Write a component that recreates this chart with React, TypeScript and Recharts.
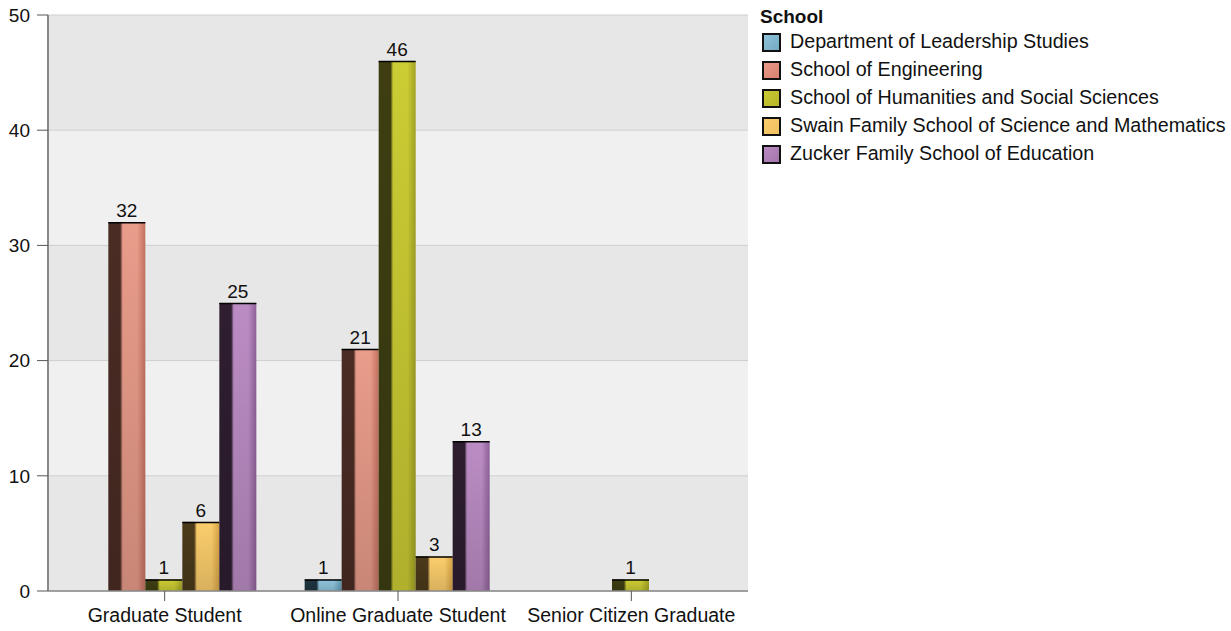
import React from 'react';
import { BarChart, Bar, XAxis, YAxis, CartesianGrid, LabelList } from 'recharts';

const categories = ['Graduate Student', 'Online Graduate Student', 'Senior Citizen Graduate'];
const leadership = [null, 1, null];
const engineering = [32, 21, null];
const humanities = [1, 46, 1];
const swain = [6, 3, null];
const zucker = [25, 13, null];
const yTicks = [0, 10, 20, 30, 40, 50];

const seriesInfo = [
  { key: 'leadership', name: 'Department of Leadership Studies', dark: '#1f3540', light: '#8fc4dc', right: '#5e98b2', swatch: '#72a8c0' },
  { key: 'engineering', name: 'School of Engineering', dark: '#4a2c24', light: '#e99c8a', right: '#c4705e', swatch: '#d8806e' },
  { key: 'humanities', name: 'School of Humanities and Social Sciences', dark: '#3e3e12', light: '#cccc34', right: '#a2a224', swatch: '#b4b428' },
  { key: 'swain', name: 'Swain Family School of Science and Mathematics', dark: '#4c3a1a', light: '#fbcd6c', right: '#d9a444', swatch: '#f0c060' },
  { key: 'zucker', name: 'Zucker Family School of Education', dark: '#2e1e30', light: '#bb8cc4', right: '#8e6098', swatch: '#a274aa' },
];

const data = categories.map((c, i) => ({
  name: c,
  leadership: leadership[i],
  engineering: engineering[i],
  humanities: humanities[i],
  swain: swain[i],
  zucker: zucker[i],
}));

const FONT = '"Liberation Sans", Arial, sans-serif';

const makeShape = (key: string) => (props: any) => {
  const { x, y, width, height } = props;
  if (height == null || height <= 0 || props.value == null) return <g />;
  return (
    <g>
      <rect x={x} y={y} width={width} height={height} fill={`url(#h-${key})`} />
      <rect x={x} y={y} width={width} height={height} fill="url(#vshade)" />
      <line x1={x} x2={x + width} y1={y + 0.5} y2={y + 0.5} stroke="#000" strokeWidth={1.5} />
    </g>
  );
};

const renderLabel = (props: any) => {
  const { x, y, width, value } = props;
  if (value == null) return null;
  return (
    <text x={x + width / 2} y={y - 5} textAnchor="middle" fontSize={19} fill="#111" fontFamily={FONT}>
      {value}
    </text>
  );
};

const Legend = () => (
  <svg width={481} height={200} style={{ position: 'absolute', left: 750, top: 0 }}>
    <defs>
      {seriesInfo.map((s) => (
        <linearGradient key={s.key} id={`lg-${s.key}`} x1="0" y1="0" x2="1" y2="1">
          <stop offset="0%" stopColor={s.light} />
          <stop offset="100%" stopColor={s.swatch} />
        </linearGradient>
      ))}
    </defs>
    <text x={10} y={23} fontSize={19} fontWeight="bold" fill="#111" fontFamily={FONT}>School</text>
    {seriesInfo.map((s, i) => (
      <g key={s.key}>
        <rect x={13} y={34 + i * 28} width={17} height={17} fill={`url(#lg-${s.key})`} stroke="#111" strokeWidth={2} />
        <text x={40} y={48 + i * 28} fontSize={19.7} fill="#111" fontFamily={FONT}>{s.name}</text>
      </g>
    ))}
  </svg>
);

export default function App() {
  return (
    <div style={{ position: 'relative', width: 1231, height: 631 }}>
      <style>{`body{margin:0;}`}</style>
      <BarChart
        width={1231}
        height={631}
        data={data}
        margin={{ top: 15, right: 483, bottom: 0, left: 0 }}
        barCategoryGap="10%"
        barGap={0}
      >
        <defs>
          {seriesInfo.map((s) => (
            <linearGradient key={s.key} id={`h-${s.key}`} x1="0" y1="0" x2="1" y2="0">
              <stop offset="0%" stopColor={s.dark} />
              <stop offset="32%" stopColor={s.dark} />
              <stop offset="39%" stopColor={s.light} />
              <stop offset="78%" stopColor={s.light} />
              <stop offset="100%" stopColor={s.right} />
            </linearGradient>
          ))}
          <linearGradient id="vshade" x1="0" y1="0" x2="0" y2="1">
            <stop offset="0%" stopColor="#000" stopOpacity={0} />
            <stop offset="100%" stopColor="#000" stopOpacity={0.14} />
          </linearGradient>
        </defs>
        <CartesianGrid vertical={false} stroke="#cfcfcf" horizontalFill={['#e7e7e7', '#f0f0f0']} fillOpacity={1} />
        <XAxis
          dataKey="name"
          height={40}
          tick={{ fontSize: 19.5, fill: '#111', fontFamily: FONT }}
          tickLine={{ stroke: '#555' }}
          axisLine={{ stroke: '#888', strokeWidth: 1.5 }}
          tickSize={10}
          tickMargin={7}
        />
        <YAxis
          width={48}
          domain={[0, 50]}
          ticks={yTicks}
          interval={0}
          tick={{ fontSize: 19, fill: '#111', fontFamily: FONT }}
          tickLine={{ stroke: '#555' }}
          axisLine={{ stroke: '#888', strokeWidth: 2 }}
          tickSize={11}
          tickMargin={7}
        />
        {seriesInfo.map((s) => (
          <Bar key={s.key} dataKey={s.key} name={s.name} isAnimationActive={false} shape={makeShape(s.key)}>
            <LabelList dataKey={s.key} content={renderLabel} />
          </Bar>
        ))}
      </BarChart>
      <Legend />
    </div>
  );
}
